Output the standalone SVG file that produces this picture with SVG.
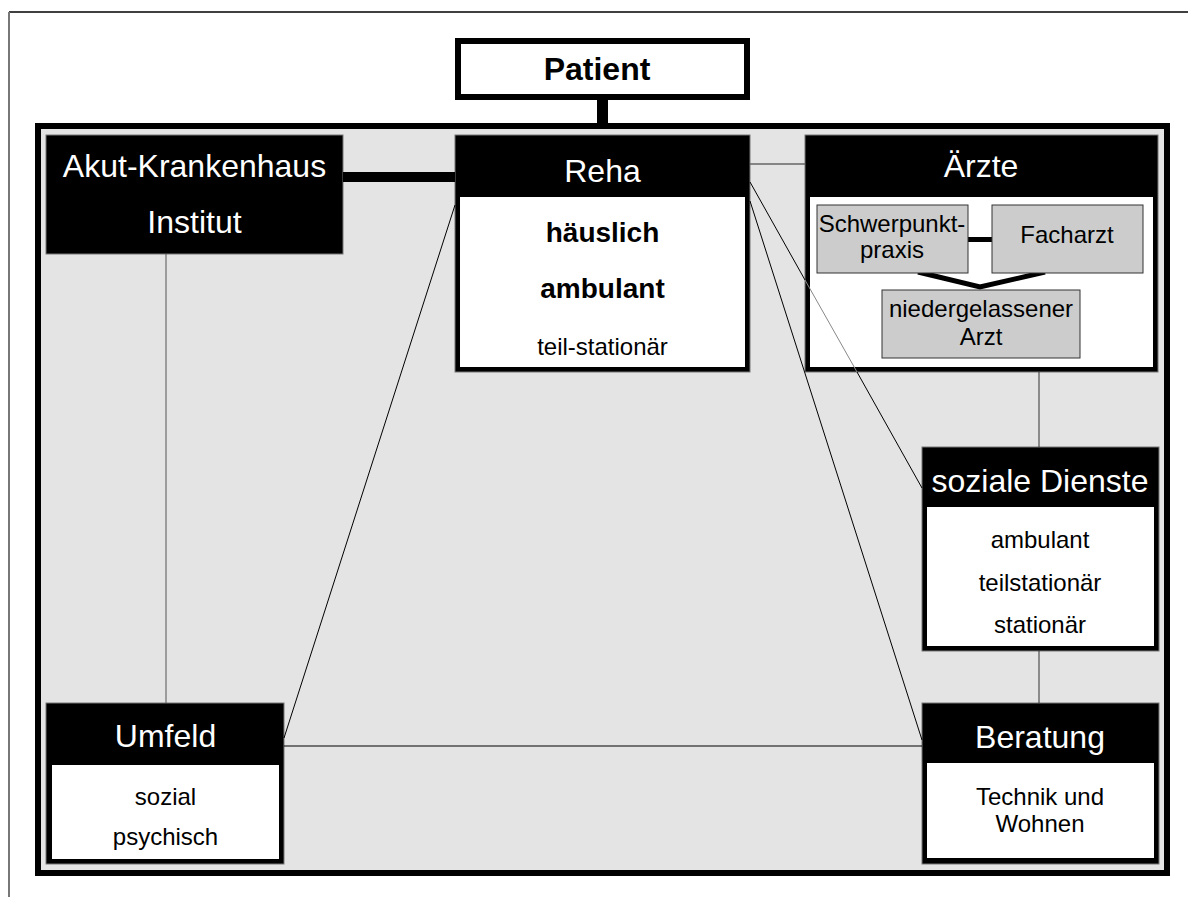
<svg xmlns="http://www.w3.org/2000/svg" width="1188" height="897" viewBox="0 0 1188 897">
<style>
text{font-family:"Liberation Sans",Arial,sans-serif;text-anchor:middle}
.h{fill:#fff;font-size:32px}
.b{fill:#000;font-size:24px}
.bb{fill:#000;font-size:28px;font-weight:bold}
.blk{fill:#000;stroke:#777;stroke-width:1}
.wht{fill:#fff}
.sub{fill:#cccccc;stroke:#333;stroke-width:1}
.ln{stroke:#000;stroke-width:1;fill:none}
</style>
<rect x="0" y="0" width="1188" height="897" fill="#fff"/>
<line x1="9" y1="12" x2="1188" y2="12" stroke="#000" stroke-width="1.5"/>
<line x1="9" y1="12" x2="9" y2="897" stroke="#777" stroke-width="2"/>
<rect id="frame" x="38" y="126" width="1129" height="747" fill="#e4e4e4" stroke="#000" stroke-width="6"/>

<g id="patient">
<rect x="458" y="41" width="289" height="56" fill="#fff" stroke="#000" stroke-width="6"/>
<text x="597" y="80" style="font-size:32px;font-weight:bold">Patient</text>
</g>

<g id="akut">
<rect class="blk" x="46" y="135" width="297" height="119"/>
<text class="h" x="194.5" y="177">Akut-Krankenhaus</text>
<text class="h" x="194.5" y="233">Institut</text>
</g>

<g id="reha">
<rect class="blk" x="455" y="135" width="295" height="237"/>
<rect class="wht" x="460" y="197" width="285" height="170"/>
<text class="h" x="602.5" y="182">Reha</text>
<text class="bb" x="602.5" y="242">häuslich</text>
<text class="bb" x="602.5" y="298">ambulant</text>
<text class="b" x="602.5" y="355">teil-stationär</text>
</g>

<g id="aerzte">
<rect class="blk" x="805" y="135" width="353" height="237"/>
<rect class="wht" x="810" y="197" width="343" height="170"/>
<text class="h" x="981" y="177">Ärzte</text>
<line x1="968" y1="239.5" x2="992" y2="239.5" stroke="#000" stroke-width="5"/>
<polyline points="918,272 980,287 1045,272" fill="none" stroke="#000" stroke-width="5"/>
<g id="schwerpunkt">
<rect class="sub" x="817" y="205" width="151" height="68"/>
<text class="b" x="892" y="232">Schwerpunkt-</text>
<text class="b" x="892" y="258">praxis</text>
</g>
<g id="facharzt">
<rect class="sub" x="992" y="205" width="151" height="68"/>
<text class="b" x="1067" y="243">Facharzt</text>
</g>
<g id="niedergelassen">
<rect class="sub" x="882" y="290" width="198" height="68"/>
<text class="b" x="981" y="317">niedergelassener</text>
<text class="b" x="981" y="345">Arzt</text>
</g>
</g>

<g id="soziale">
<rect class="blk" x="922" y="447" width="237" height="204"/>
<rect class="wht" x="927" y="507" width="227" height="139"/>
<text class="h" x="1040" y="492">soziale Dienste</text>
<text class="b" x="1040" y="548">ambulant</text>
<text class="b" x="1040" y="591">teilstationär</text>
<text class="b" x="1040" y="633">stationär</text>
</g>

<g id="beratung">
<rect class="blk" x="922" y="703" width="237" height="161"/>
<rect class="wht" x="927" y="763" width="227" height="95"/>
<text class="h" x="1040" y="748">Beratung</text>
<text class="b" x="1040" y="805">Technik und</text>
<text class="b" x="1040" y="832">Wohnen</text>
</g>

<g id="umfeld">
<rect class="blk" x="46" y="703" width="238" height="161"/>
<rect class="wht" x="52" y="765" width="227" height="94"/>
<text class="h" x="165.5" y="747">Umfeld</text>
<text class="b" x="165.5" y="805">sozial</text>
<text class="b" x="165.5" y="845">psychisch</text>
</g>

<g id="connectors">
<rect x="597" y="97" width="11" height="29" fill="#000"/>
<rect x="343" y="172" width="112" height="10" fill="#000"/>
<line x1="750" y1="164" x2="805" y2="164" stroke="#666" stroke-width="1.5"/>
<line x1="166" y1="254" x2="166" y2="703" stroke="#555" stroke-width="1"/>
<line x1="1039" y1="372" x2="1039" y2="447" stroke="#333" stroke-width="1"/>
<line x1="1039" y1="651" x2="1039" y2="703" stroke="#333" stroke-width="1"/>
<line class="ln" x1="284" y1="746" x2="922" y2="746"/>
<line class="ln" x1="455" y1="205" x2="284" y2="738"/>
<line class="ln" x1="750" y1="201" x2="922" y2="740"/>
<line class="ln" x1="750" y1="182" x2="805" y2="280"/>
<line x1="805" y1="280" x2="857" y2="372" stroke="#888" stroke-width="1"/>
<line class="ln" x1="857" y1="372" x2="922" y2="488"/>
</g>
</svg>
